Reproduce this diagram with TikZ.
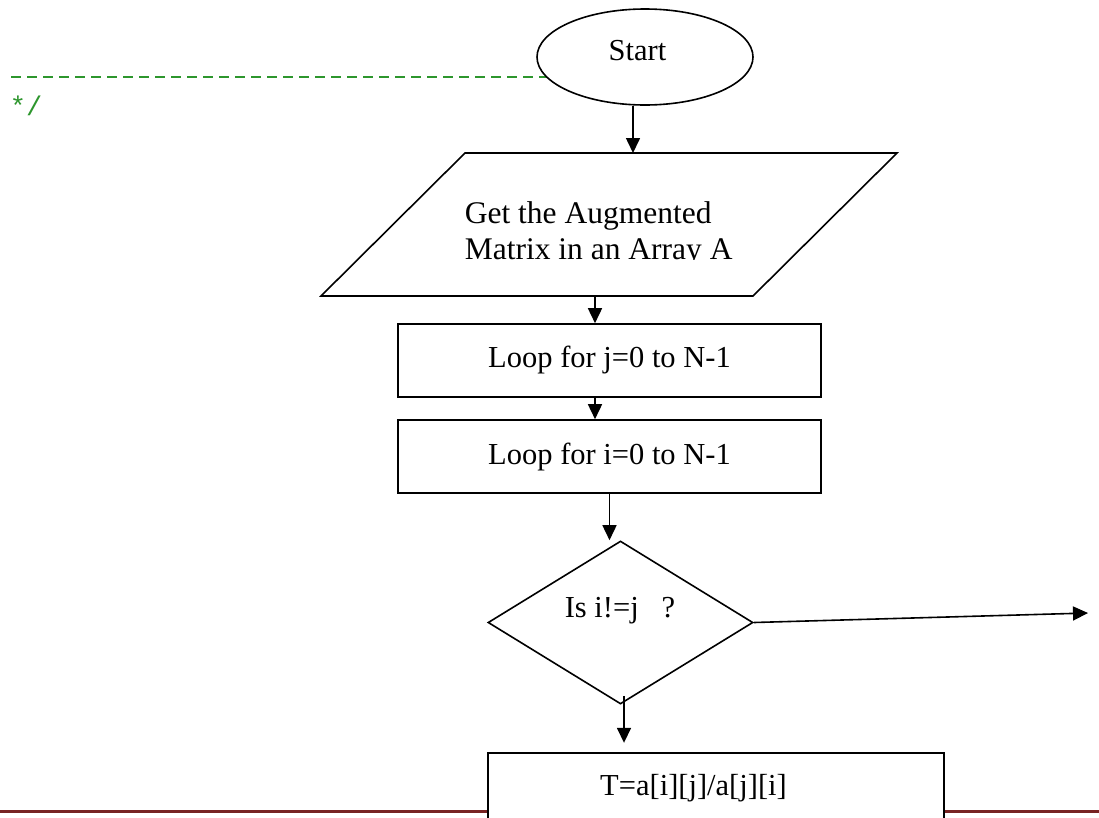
\documentclass[tikz,border=0pt]{standalone}
\usepackage{fontspec}
\setmainfont{Liberation Serif}
\setmonofont{Liberation Mono}
\usetikzlibrary{shapes.geometric,arrows.meta}
\definecolor{codegreen}{RGB}{45,150,45}
\definecolor{rulered}{RGB}{120,35,35}
\begin{document}
\begin{tikzpicture}[x=1pt,y=-1pt,
  line width=1.6pt,
  txt/.style={font=\fontsize{30.5}{36}\selectfont, inner sep=0pt},
  box/.style={draw, fill=white, rectangle, inner sep=0pt, txt},
  arr/.style={-{Triangle[length=15pt,width=14pt]}},
]
\clip (0,0) rectangle (1099,817);
\fill[white] (0,0) rectangle (1099,817);

% footer rule
\draw[rulered, line width=3pt] (0,811) -- (1099,811);

% end of a code comment
\draw[codegreen, line width=2pt, dash pattern=on 10pt off 6pt] (11,77) -- (560,77);
\node[font=\ttfamily\fontsize{27}{30}\selectfont, text=codegreen, anchor=base west, inner sep=0pt] (cmt) at (9,115) {*/};

% start terminal
\node[ellipse, draw, fill=white, minimum width=216pt, minimum height=96pt, inner sep=0pt] (start) at (645,57) {};
\node[txt, anchor=base] (startlbl) at (637.5,60) {Start};

% input parallelogram
\draw[fill=white] (465,153) -- (897,153) -- (753,296) -- (321,296) -- cycle;
\coordinate (ptop) at (633,153);
\coordinate (pbot) at (595,296);
\begin{scope}
  \clip (321,150) rectangle (897,259);
  \node[txt, font=\fontsize{31.5}{36}\selectfont, anchor=base west] (get1) at (464,223) {Get the Augmented};
  \node[txt, font=\fontsize{31.5}{36}\selectfont, anchor=base west] (get2) at (464,259) {Matrix in an Array A};
\end{scope}

% loops
\node[box, minimum width=423pt, minimum height=73pt] (loopj) at (609.5,360.5) {Loop for j=0 to N-1};
\node[box, minimum width=423pt, minimum height=73pt] (loopi) at (609.5,456.5) {Loop for i=0 to N-1};

% decision
\node[diamond, draw, fill=white, minimum width=265pt, minimum height=163pt, inner sep=0pt] (dec) at (620.5,622.5) {};
\node[txt, anchor=base] (declbl) at (620,617) {Is i!=j\ \ \ ?};
\coordinate (out) at (1088,613);

% division step
\node[draw, fill=white, rectangle, minimum width=456pt, minimum height=100pt, inner sep=0pt, anchor=north] (tbox) at (716,752) {};
\node[txt, anchor=base] (tlbl) at (693.5,795) {T=a[i][j]/a[j][i]};

% connectors
\draw[arr] ([xshift=-12pt]start.south) -- (ptop);
\draw[arr] (pbot) -- (pbot |- loopj.north);
\draw[arr] (pbot |- loopj.south) -- (pbot |- loopi.north);
\draw[arr] (loopi.south) -- (loopi.south |- dec.north);
\draw[arr] (dec.east) -- (out);
\draw[arr] ([xshift=3.5pt,yshift=9pt]dec.south) -- ++(0,47);
\end{tikzpicture}
\end{document}
